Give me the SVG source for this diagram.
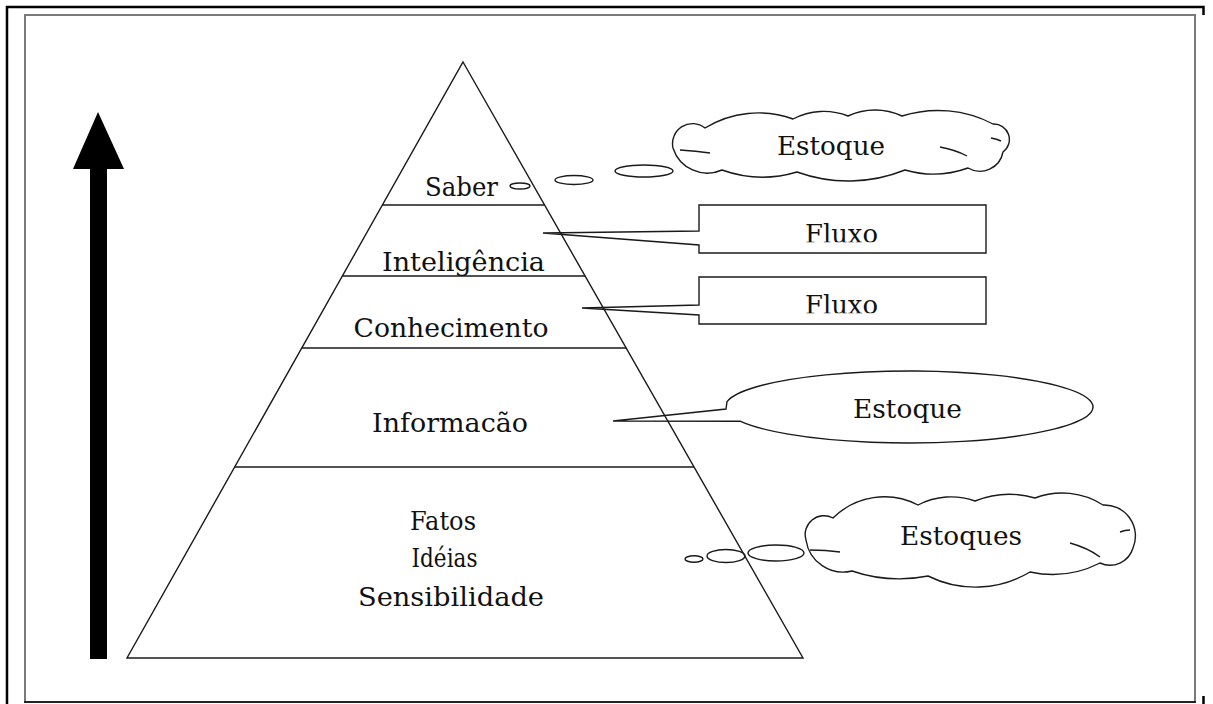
<svg xmlns="http://www.w3.org/2000/svg" width="1213" height="704" viewBox="0 0 1213 704">
<style>
.ln{fill:none;stroke:#1a1a1a;stroke-width:1.4}
.co{fill:#fff;stroke:#1a1a1a;stroke-width:1.4;stroke-linejoin:miter}
.t{font-family:"DejaVu Serif","Liberation Serif",serif;font-size:26px;fill:#111;text-anchor:middle}
</style>
<defs>
<clipPath id="c1"><rect x="700" y="206" width="285" height="36.3"/></clipPath>
<clipPath id="c2"><rect x="700" y="278" width="285" height="35.3"/></clipPath>
</defs>
<rect width="1213" height="704" fill="#fff"/>
<g id="frame">
<path d="M7,704 V7 H1203.5 V15" fill="none" stroke="#000" stroke-width="2.5"/>
<path d="M25,702 V15 H1195 V702" fill="none" stroke="#7a7a7a" stroke-width="2"/>
<path d="M24,702 H1196" fill="none" stroke="#222" stroke-width="2"/>
<path d="M1203.5,696 V704" fill="none" stroke="#000" stroke-width="2.5"/>
</g>
<g id="arrow">
<polygon points="98,112 124,169 73,169" fill="#000"/>
<rect x="90" y="168" width="17" height="491" fill="#000"/>
</g>
<g id="connectors">
<path id="callout-fluxo1" class="co" d="M699,205 H986 V253 H699 V245 L543,233 L699,231 Z"/>
<path id="callout-fluxo2" class="co" d="M699,277 H986 V324 H699 V315 L582,308 L699,305 Z"/>
<path id="callout-estoque" class="co" d="M740,421.2 L613,421 L726,409 L727,401.7 A184,36 0 1 1 740,421.2 Z"/>
<g id="bubbles-saber" class="co">
<ellipse cx="520" cy="186" rx="10" ry="3"/>
<ellipse cx="574" cy="180" rx="19" ry="4.5"/>
<ellipse cx="644" cy="171" rx="29" ry="6"/>
</g>
<g id="bubbles-fatos" class="co">
<ellipse cx="694" cy="559" rx="9" ry="3.2"/>
<ellipse cx="726" cy="556" rx="19" ry="6.5"/>
<ellipse cx="776" cy="553" rx="28" ry="8"/>
</g>
</g>
<g id="cloud-top">
<path class="co" d="M673,148 A20,20 0 0 1 705,128 A102,102 0 0 1 793,119 A66,66 0 0 1 848,116 A64,64 0 0 1 902,116 A119,119 0 0 1 993,124 A15.5,15.5 0 0 1 1003,152 A23.5,23.5 0 0 1 968,168 A102,102 0 0 1 905,170 A151,151 0 0 1 797,172 A120,120 0 0 1 722,170 A36,36 0 0 1 673,148 Z"/>
<path class="ln" d="M680,150 Q696,151 710,153 M940,147 Q956,150 967,156 M991,138 Q997,139 1001,141"/>
<text class="t" x="831" y="155" textLength="108" lengthAdjust="spacingAndGlyphs">Estoque</text>
</g>
<g id="cloud-bottom">
<path class="co" d="M806,540 A18.8,18.8 0 0 1 833,518 A73,73 0 0 1 918,505 A71,71 0 0 1 975,501 A92,92 0 0 1 1035,498 A76,76 0 0 1 1103,505 A31,31 0 0 1 1133,548 A24,24 0 0 1 1100,563 A105,105 0 0 1 1030,572 A106.5,106.5 0 0 1 928,576 A147,147 0 0 1 852,571 A37.5,37.5 0 0 1 806,540 Z"/>
<path class="ln" d="M810,550 Q826,550 840,552 M1070,543 Q1088,548 1100,557 M1120,532 Q1125,530 1130,530"/>
<text class="t" x="961" y="545" textLength="122" lengthAdjust="spacingAndGlyphs">Estoques</text>
</g>
<g id="pyramid">
<path class="ln" d="M463,62 L803,658 L127,658 Z"/>
<path class="ln" d="M382.4,205 H544.6 M342.4,276 H585.1 M301.7,348 H626.2 M234.8,467 H694"/>
</g>
<g id="labels">
<text class="t" x="461.5" y="196" textLength="73" lengthAdjust="spacingAndGlyphs">Saber</text>
<text class="t" x="463.5" y="271" textLength="163" lengthAdjust="spacingAndGlyphs">Inteligência</text>
<text class="t" x="451" y="337" textLength="195" lengthAdjust="spacingAndGlyphs">Conhecimento</text>
<text class="t" x="450" y="432" textLength="156" lengthAdjust="spacingAndGlyphs">Informacão</text>
<text class="t" x="443" y="530" textLength="66" lengthAdjust="spacingAndGlyphs">Fatos</text>
<text class="t" x="444.5" y="567" textLength="66" lengthAdjust="spacingAndGlyphs">Idéias</text>
<text class="t" x="451" y="606" textLength="186" lengthAdjust="spacingAndGlyphs">Sensibilidade</text>
<text class="t" x="907.5" y="418" textLength="109" lengthAdjust="spacingAndGlyphs">Estoque</text>
<text class="t" x="841.5" y="243" textLength="73" lengthAdjust="spacingAndGlyphs" clip-path="url(#c1)">Fluxo</text>
<text class="t" x="841.5" y="314" textLength="73" lengthAdjust="spacingAndGlyphs" clip-path="url(#c2)">Fluxo</text>
</g>
</svg>
